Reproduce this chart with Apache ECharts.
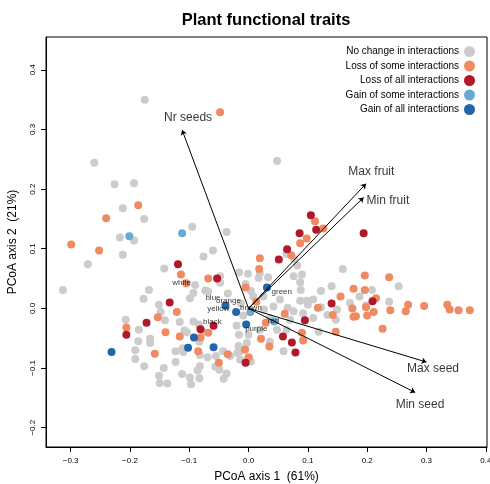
<!DOCTYPE html>
<html>
<head>
<meta charset="utf-8">
<title>Plant functional traits</title>
<script src="https://cdn.jsdelivr.net/npm/echarts@6/dist/echarts.min.js"></script>
<style>
  html, body { margin: 0; padding: 0; background: #fff; }
  #chart { width: 490px; height: 484px; }
</style>
</head>
<body>
<div id="chart"></div>
<script>
// PCoA scores (axis 1, axis 2) by change in interactions
var noChange = [[-0.175,0.350],[-0.260,0.244],[-0.226,0.208],[-0.193,0.210],[-0.212,0.168],[-0.176,0.150],[-0.095,0.137],[-0.037,0.128],[-0.217,0.119],[-0.193,0.114],[-0.212,0.090],[-0.271,0.074],[-0.060,0.097],[-0.076,0.087],[-0.142,0.067],[-0.048,0.054],[-0.016,0.060],[-0.001,0.058],[-0.313,0.031],[-0.168,0.031],[-0.048,0.043],[-0.090,0.039],[-0.073,0.030],[-0.068,0.028],[-0.099,0.017],[-0.177,0.016],[-0.005,0.041],[0.004,0.029],[0.008,0.020],[-0.151,0.006],[-0.148,-0.006],[-0.116,-0.023],[-0.141,-0.020],[-0.207,-0.019],[-0.185,-0.036],[-0.166,-0.051],[-0.166,-0.058],[-0.186,-0.055],[-0.191,-0.070],[-0.191,-0.085],[-0.176,-0.097],[-0.143,-0.100],[-0.123,-0.072],[-0.123,-0.090],[-0.111,-0.067],[-0.108,-0.037],[-0.084,-0.027],[-0.077,-0.039],[-0.035,0.025],[-0.013,0.008],[-0.009,-0.012],[-0.016,-0.044],[0.000,-0.044],[-0.003,-0.058],[-0.014,-0.072],[0.001,-0.083],[-0.014,-0.086],[0.036,-0.056],[0.048,-0.036],[-0.043,-0.072],[-0.031,-0.080],[-0.069,-0.082],[-0.082,-0.097],[-0.056,-0.098],[-0.049,-0.103],[-0.042,-0.118],[-0.112,-0.110],[-0.099,-0.116],[-0.097,-0.127],[-0.151,-0.113],[-0.150,-0.125],[-0.137,-0.126],[-0.110,-0.073],[-0.104,-0.040],[-0.083,-0.056],[-0.082,-0.078],[-0.086,-0.104],[-0.083,-0.117],[-0.055,-0.080],[-0.037,-0.109],[-0.017,-0.063],[-0.019,-0.075],[0.004,-0.089],[0.064,-0.036],[-0.020,-0.029],[0.042,0.003],[0.076,-0.005],[0.133,-0.011],[0.149,-0.002],[0.171,0.009],[0.198,0.005],[0.059,-0.072],[0.118,-0.039],[0.076,0.054],[0.087,0.044],[0.253,0.037],[0.208,0.031],[0.140,0.037],[0.122,0.029],[0.187,0.020],[0.237,0.011],[0.122,0.002],[0.109,0.015],[0.098,0.013],[0.087,0.013],[0.092,-0.008],[0.109,-0.016],[0.066,0.001],[0.147,-0.019],[0.048,0.247],[0.064,0.091],[0.077,0.083],[0.082,0.072],[0.159,0.066],[0.033,0.052],[0.090,0.057],[0.088,0.031],[0.100,0.006],[0.025,0.020],[-0.093,0.026],[-0.093,-0.022],[0.019,0.059],[0.017,0.051],[0.026,-0.002],[0.036,-0.016],[0.053,0.015],[0.070,-0.019],[0.019,-0.036]];
var lossSome = [[-0.048,0.329],[-0.186,0.173],[-0.240,0.151],[-0.299,0.107],[-0.252,0.097],[-0.114,0.057],[-0.105,0.042],[-0.068,0.050],[0.018,0.066],[0.019,0.084],[-0.121,-0.006],[-0.153,-0.015],[-0.206,-0.032],[-0.140,-0.040],[-0.158,-0.076],[-0.116,-0.047],[-0.081,-0.049],[-0.005,0.035],[0.013,0.011],[-0.006,-0.069],[-0.050,-0.091],[-0.085,-0.072],[0.021,-0.051],[0.035,-0.064],[-0.035,-0.077],[0.000,-0.082],[0.029,-0.024],[0.117,0.001],[0.142,-0.011],[0.175,0.000],[0.177,-0.014],[0.181,-0.013],[0.200,-0.012],[0.211,-0.006],[0.239,-0.003],[0.269,0.006],[0.296,0.004],[0.335,0.006],[0.339,-0.002],[0.354,-0.003],[0.373,-0.003],[0.265,-0.005],[0.226,-0.034],[0.147,-0.039],[0.090,-0.041],[0.092,-0.054],[0.196,0.055],[0.237,0.052],[0.196,0.031],[0.177,0.033],[0.155,0.020],[0.215,0.017],[0.198,0.002],[0.061,-0.009],[0.112,0.146],[0.126,0.134],[0.098,0.117],[0.087,0.109],[0.072,0.089],[-0.068,-0.041]];
var lossAll = [[-0.119,0.074],[-0.053,0.050],[-0.133,0.010],[-0.172,-0.024],[-0.206,-0.044],[-0.081,-0.035],[-0.059,-0.029],[-0.005,-0.091],[0.058,-0.047],[0.073,-0.057],[0.079,-0.074],[0.095,-0.020],[0.140,0.008],[0.209,0.012],[0.105,0.156],[0.114,0.132],[0.086,0.126],[0.194,0.126],[0.065,0.099],[0.051,0.082]];
var gainSome = [[-0.201,0.121],[-0.112,0.126],[0.003,-0.006],[0.043,-0.022]];
var gainAll = [[-0.231,-0.073],[-0.102,-0.066],[-0.092,-0.049],[-0.059,-0.065],[-0.039,0.005],[-0.021,-0.006],[-0.004,-0.027],[0.031,0.035]];

// trait vectors: arrow tips and label positions
var traitNames = ['Nr seeds', 'Max fruit', 'Min fruit', 'Max seed', 'Min seed'];
var traitTips = [[-0.112,0.299],[0.198,0.209],[0.194,0.186],[0.300,-0.090],[0.281,-0.141]];
var traitLabelPos = [[-0.102,0.320],[0.207,0.229],[0.235,0.180],[0.311,-0.101],[0.289,-0.162]];

// colour labels
var colourNames = ['white','blue','orange','yellow','brown','green','red','black','purple'];
var colourPos = [[-0.113,0.043],[-0.060,0.018],[-0.034,0.013],[-0.051,0.000],[0.004,0.001],[0.056,0.028],[0.042,-0.020],[-0.061,-0.023],[0.013,-0.035]];

var xTicks = [-0.3,-0.2,-0.1,0.0,0.1,0.2,0.3,0.4];
var yTicks = [-0.2,-0.1,0.0,0.1,0.2,0.3,0.4];

var groupNames = ['No change in interactions','Loss of some interactions','Loss of all interactions','Gain of some interactions','Gain of all interactions'];
var groupColors = ['#CCCCCC','#EF8A62','#B2182B','#67A9CF','#2166AC'];
var groupData = [noChange, lossSome, lossAll, gainSome, gainAll];

var font = 'Liberation Sans, Arial, sans-serif';
var myChart = echarts.init(document.getElementById('chart'));

var series = [];
for (var i = 0; i < groupNames.length; i++) {
    series.push({
        name: groupNames[i],
        type: 'scatter',
        data: groupData[i],
        symbolSize: 8,
        itemStyle: { color: groupColors[i], opacity: 1 },
        z: 2 + i
    });
}

var arrowData = [];
var traitLabels = [];
for (var k = 0; k < traitNames.length; k++) {
    arrowData.push({ coords: [[0, 0], traitTips[k]] });
    traitLabels.push({ value: traitLabelPos[k], name: traitNames[k] });
}
series.push({
    type: 'lines',
    coordinateSystem: 'cartesian2d',
    data: arrowData,
    symbol: ['none', 'arrow'],
    symbolSize: 5,
    lineStyle: { color: '#000', width: 1, opacity: 1 },
    z: 10,
    silent: true
});
series.push({
    type: 'scatter',
    data: traitLabels,
    symbolSize: 0,
    label: {
        show: true, position: 'inside', formatter: '{b}',
        color: '#000', fontSize: 12, fontFamily: font
    },
    z: 11, silent: true
});

var colourData = [];
for (var c = 0; c < colourNames.length; c++) {
    colourData.push({ value: colourPos[c], name: colourNames[c] });
}
series.push({
    type: 'scatter',
    data: colourData,
    symbolSize: 0,
    label: {
        show: true, position: 'inside', formatter: '{b}',
        color: '#000', fontSize: 8, fontFamily: font
    },
    z: 12, silent: true
});

option = {
    backgroundColor: '#fff',
    animation: false,
    title: {
        text: 'Plant functional traits',
        left: 261, top: 7, textAlign: 'center',
        textStyle: { fontSize: 16.5, fontWeight: 'bold', fontFamily: font, color: '#000' }
    },
    legend: {
        data: groupNames,
        orient: 'vertical',
        align: 'right',
        right: 10, top: 41,
        itemWidth: 11, itemHeight: 11, itemGap: 3.5,
        icon: 'circle',
        textStyle: { fontSize: 10, fontFamily: font, color: '#000', padding: [0, 0, 0, 0] }
    },
    grid: {
        left: 46, right: 3, top: 37, bottom: 37,
        outerBoundsMode: 'none',
        show: true, borderColor: '#000', borderWidth: 1
    },
    xAxis: {
        type: 'value',
        min: -0.3415, max: 0.402,
        name: 'PCoA axis 1  (61%)',
        nameLocation: 'middle', nameGap: 24,
        nameTextStyle: { fontSize: 12, fontFamily: font, color: '#000' },
        axisLine: { show: true, onZero: false, lineStyle: { color: '#000' } },
        axisTick: { show: true, length: 5, customValues: xTicks, lineStyle: { color: '#000' } },
        axisLabel: { customValues: xTicks, fontSize: 8, fontFamily: font, color: '#000', margin: 10,
            formatter: function (v) { return v.toFixed(1).replace('-', '\u2212'); } },
        splitLine: { show: false }
    },
    yAxis: {
        type: 'value',
        min: -0.2324, max: 0.455,
        name: 'PCoA axis 2  (21%)',
        nameLocation: 'middle', nameGap: 27,
        nameTextStyle: { fontSize: 12, fontFamily: font, color: '#000' },
        axisLine: { show: true, onZero: false, lineStyle: { color: '#000' } },
        axisTick: { show: true, length: 5, customValues: yTicks, lineStyle: { color: '#000' } },
        axisLabel: { customValues: yTicks, fontSize: 8, fontFamily: font, color: '#000', margin: 9, rotate: 90,
            formatter: function (v) { return v.toFixed(1).replace('-', '\u2212'); } },
        splitLine: { show: false }
    },
    series: series
};

myChart.setOption(option);
</script>
</body>
</html>
